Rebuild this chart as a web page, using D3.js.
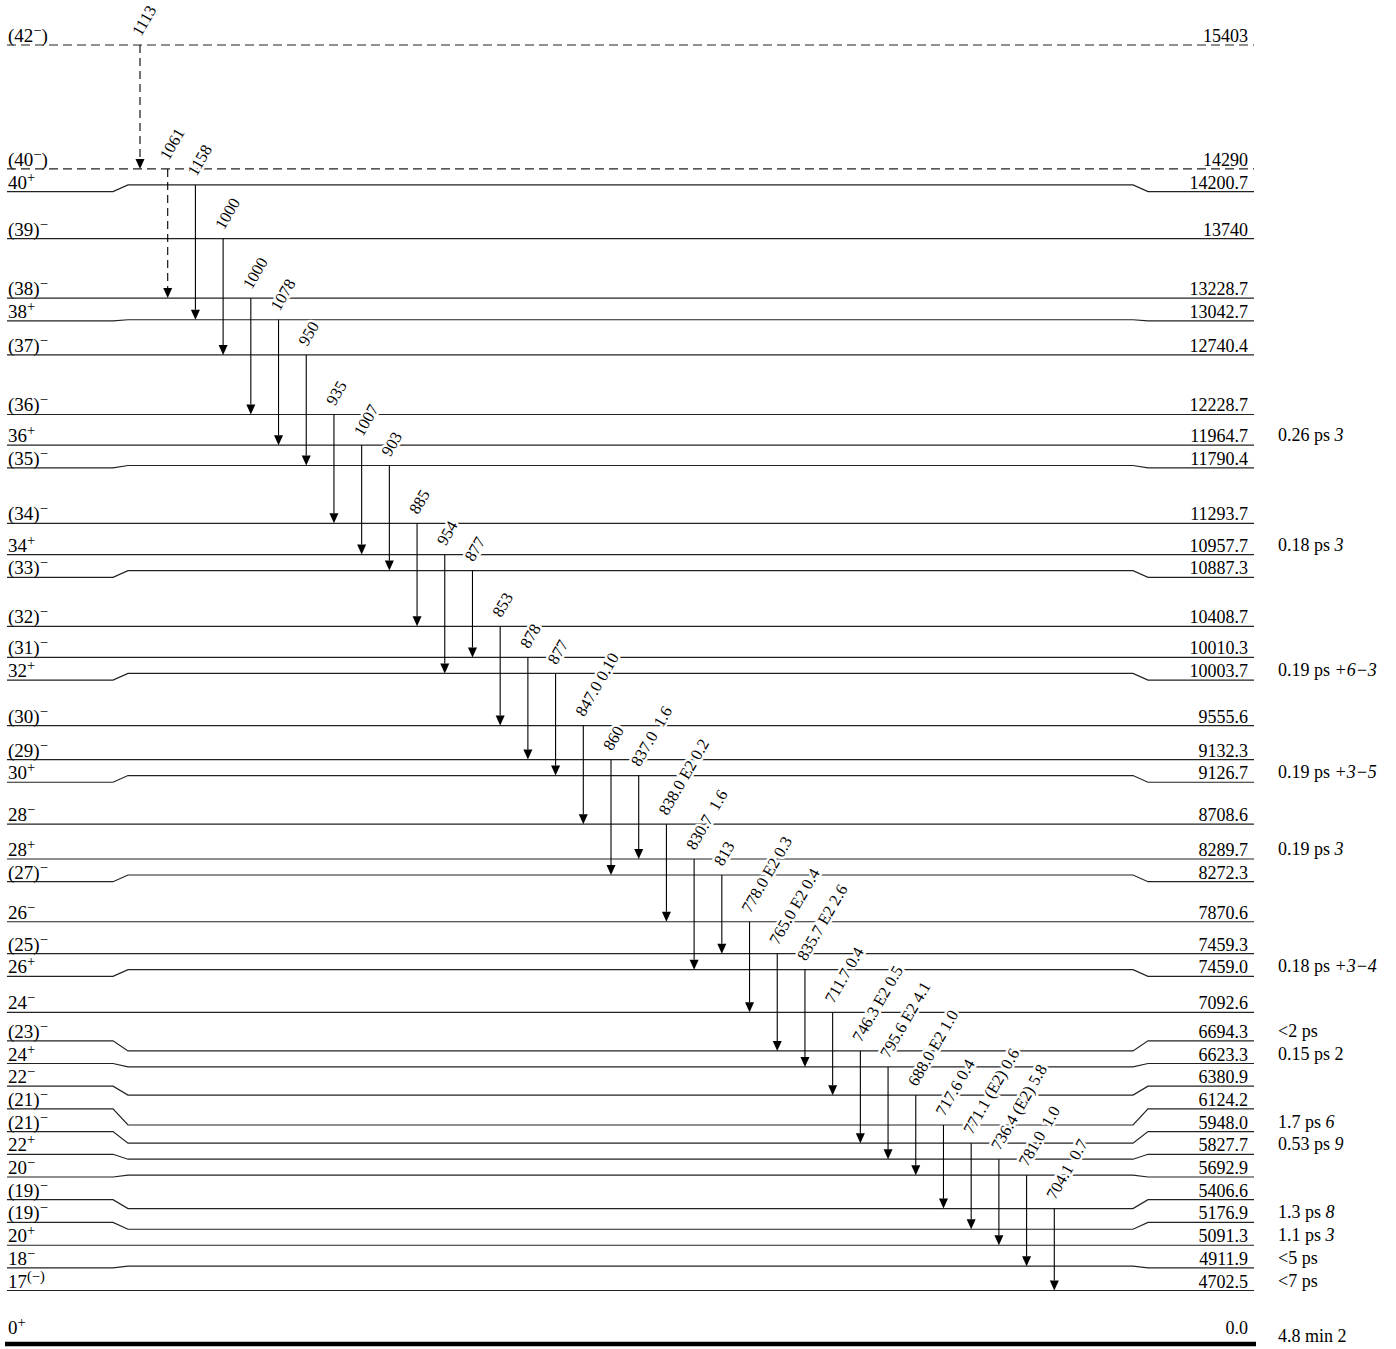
<!DOCTYPE html>
<html>
<head>
<meta charset="utf-8">
<script src="https://cdn.jsdelivr.net/npm/d3@7"></script>
<style>
body { margin: 0; background: #fff; }
text { font-family: "Liberation Serif", "Times New Roman", serif; fill: #000; }
</style>
</head>
<body>
<div id="chart"></div>
<script>
// level energies (keV) as printed, top to bottom
var levelEnergies = ["15403", "14290", "14200.7", "13740", "13228.7", "13042.7", "12740.4",
  "12228.7", "11964.7", "11790.4", "11293.7", "10957.7", "10887.3", "10408.7", "10010.3",
  "10003.7", "9555.6", "9132.3", "9126.7", "8708.6", "8289.7", "8272.3", "7870.6", "7459.3",
  "7459.0", "7092.6", "6694.3", "6623.3", "6380.9", "6124.2", "5948.0", "5827.7", "5692.9",
  "5406.6", "5176.9", "5091.3", "4911.9", "4702.5", "0.0"];
// spin-parity, "^" toggles superscript
var levelSpins = ["(42^−^)", "(40^−^)", "40^+", "(39)^−", "(38)^−", "38^+", "(37)^−",
  "(36)^−", "36^+", "(35)^−", "(34)^−", "34^+", "(33)^−", "(32)^−", "(31)^−",
  "32^+", "(30)^−", "(29)^−", "30^+", "28^−", "28^+", "(27)^−", "26^−", "(25)^−",
  "26^+", "24^−", "(23)^−", "24^+", "22^−", "(21)^−", "(21)^−", "22^+", "20^−",
  "(19)^−", "(19)^−", "20^+", "18^−", "17^(−)", "0^+"];
var tentativeLevels = ["15403", "14290"];

// half-lives
var halfLifeLevels = ["11964.7", "10957.7", "10003.7", "9126.7", "8289.7", "7459.0", "6694.3",
  "6623.3", "5948.0", "5827.7", "5176.9", "5091.3", "4911.9", "4702.5", "0.0"];
var halfLifeValues = ["0.26 ps", "0.18 ps", "0.19 ps", "0.19 ps", "0.19 ps", "0.18 ps", "<2 ps",
  "0.15 ps", "1.7 ps", "0.53 ps", "1.3 ps", "1.1 ps", "<5 ps", "<7 ps", "4.8 min"];
var halfLifeErrors = ["3", "3", "+6−3", "+3−5", "3", "+3−4", "", "2", "6", "9", "8", "3", "", "", "2"];

// gamma transitions, left to right
var gammaFrom = ["15403", "14290", "14200.7", "13740", "13228.7", "13042.7", "12740.4", "12228.7",
  "11964.7", "11790.4", "11293.7", "10957.7", "10887.3", "10408.7", "10010.3", "10003.7",
  "9555.6", "9132.3", "9126.7", "8708.6", "8289.7", "8272.3", "7870.6", "7459.3", "7459.0",
  "7092.6", "6694.3", "6623.3", "6380.9", "6124.2", "5948.0", "5827.7", "5692.9", "5406.6"];
var gammaTo = ["14290", "13228.7", "13042.7", "12740.4", "12228.7", "11964.7", "11790.4", "11293.7",
  "10957.7", "10887.3", "10408.7", "10003.7", "10010.3", "9555.6", "9132.3", "9126.7",
  "8708.6", "8272.3", "8289.7", "7870.6", "7459.0", "7459.3", "7092.6", "6694.3", "6623.3",
  "6380.9", "5948.0", "5827.7", "5692.9", "5406.6", "5176.9", "5091.3", "4911.9", "4702.5"];
var gammaLabels = ["1113", "1061", "1158", "1000", "1000", "1078", "950", "935", "1007", "903",
  "885", "954", "877", "853", "878", "877", "847.0 0.10", "860", "837.0  1.6", "838.0 E2 0.2",
  "830.7  1.6", "813", "778.0 E2 0.3", "765.0 E2 0.4", "835.7 E2 2.6", "711.7 0.4",
  "746.3 E2 0.5", "795.6 E2 4.1", "688.0 E2 1.0", "717.6 0.4", "771.1 (E2) 0.6",
  "736.4 (E2) 5.8", "781.0  1.0", "704.1  0.7"];

var width = 1396, height = 1349;
var minMid = 16, minLab = 22.7;
var xStart = 7, xEnd = 1254, kinkL = [113, 128], kinkR = [1133, 1148];

var svg = d3.select("#chart").append("svg")
    .attr("width", width)
    .attr("height", height);

var levels = levelEnergies.map(function(e, i) {
  return { key: e, e: +e, spin: levelSpins[i], dashed: tentativeLevels.indexOf(e) >= 0 };
});
var byKey = {};
levels.forEach(function(d) { byKey[d.key] = d; });

var excited = levels.filter(function(d) { return d.e > 0; })
  .sort(function(a, b) { return a.e - b.e; });
var ground = levels.filter(function(d) { return d.e == 0; })[0];

// broken energy axis: ground state sits just below the lowest excited level
var y = d3.scaleLinear()
  .domain([0, excited[0].e, excited[excited.length - 1].e])
  .range([1344, 1290.5, 45]);

// middle part of each level line, pushed up when too close to the one below
excited.forEach(function(d, i) {
  d.mid = y(d.e);
  if (i > 0) d.mid = Math.min(d.mid, excited[i - 1].mid - minMid);
});
// label ends: spread top-down, then bottom-up
var fromTop = excited.slice().reverse();
fromTop.forEach(function(d, i) {
  d.end = d.mid;
  if (i > 0) d.end = Math.max(d.end, fromTop[i - 1].end + minLab);
});
excited.forEach(function(d, i) {
  if (i == 0) d.end = d.mid;
  else d.end = Math.min(d.end, excited[i - 1].end - minLab);
});
ground.mid = ground.end = y(0);

function levelPath(d) {
  if (Math.abs(d.end - d.mid) < 0.5)
    return "M" + xStart + "," + d.mid + "H" + xEnd;
  return "M" + xStart + "," + d.end + "H" + kinkL[0] + "L" + kinkL[1] + "," + d.mid +
    "H" + kinkR[0] + "L" + kinkR[1] + "," + d.end + "H" + xEnd;
}

////////// levels //////////
svg.append("g").selectAll("path")
  .data(excited)
  .enter().append("path")
    .attr("d", levelPath)
    .attr("fill", "none")
    .attr("stroke", "#222")
    .attr("stroke-width", 1.2)
    .attr("stroke-dasharray", function(d) { return d.dashed ? "9,5" : null; });

svg.append("line")
  .attr("x1", xStart - 2).attr("x2", xEnd + 2)
  .attr("y1", ground.mid).attr("y2", ground.mid)
  .attr("stroke", "#000")
  .attr("stroke-width", 4.5);

////////// transitions //////////
var gammas = gammaLabels.map(function(t, i) {
  return { i: i, label: t, from: byKey[gammaFrom[i]], to: byKey[gammaTo[i]] };
});
var x = d3.scalePoint()
  .domain(d3.range(gammas.length))
  .range([140, 1054.3]);

var head = 10, headW = 4.5;
var gg = svg.append("g").selectAll("g")
  .data(gammas)
  .enter().append("g");

gg.append("line")
  .attr("x1", function(d) { return x(d.i); })
  .attr("x2", function(d) { return x(d.i); })
  .attr("y1", function(d) { return d.from.mid; })
  .attr("y2", function(d) { return d.to.mid - head; })
  .attr("stroke", "#000")
  .attr("stroke-width", 1.1)
  .attr("stroke-dasharray", function(d) { return d.from.dashed ? "8,5" : null; });

gg.append("path")
  .attr("d", function(d) {
    var cx = x(d.i), ty = d.to.mid;
    return "M" + cx + "," + ty + "L" + (cx - headW) + "," + (ty - head) +
      "L" + (cx + headW) + "," + (ty - head) + "Z";
  })
  .attr("fill", "#000");

gg.append("text")
  .attr("transform", function(d) {
    return "translate(" + (x(d.i) + 1) + "," + (d.from.mid - 8) + ")rotate(-60)";
  })
  .attr("font-size", 16.5)
  .style("white-space", "pre")
  .attr("stroke", "#fff")
  .attr("stroke-width", 5)
  .attr("stroke-linejoin", "round")
  .attr("paint-order", "stroke")
  .text(function(d) { return d.label; });

////////// labels //////////
var all = excited.concat([ground]);

function labelBase(d) { return d === ground ? d.end - 10 : d.end - 3; }

var spinText = svg.append("g").selectAll("text")
  .data(all)
  .enter().append("text")
    .attr("x", 8)
    .attr("y", labelBase)
    .attr("font-size", 19);

spinText.each(function(d) {
  var t = d3.select(this);
  d.spin.split("^").forEach(function(part, k) {
    if (!part) return;
    var sup = k % 2 == 1;
    t.append("tspan")
      .attr("font-size", sup ? 14.5 : 19)
      .attr("dy", sup ? -7 : (k > 0 ? 7 : 0))
      .text(part);
  });
});

svg.append("g").selectAll("text")
  .data(all)
  .enter().append("text")
    .attr("x", 1248)
    .attr("y", labelBase)
    .attr("text-anchor", "end")
    .attr("font-size", 18)
    .text(function(d) { return d.key; });

var lifeText = svg.append("g").selectAll("text")
  .data(halfLifeLevels.map(function(k, i) {
    return { level: byKey[k], value: halfLifeValues[i], err: halfLifeErrors[i] };
  }))
  .enter().append("text")
    .attr("x", 1278)
    .attr("y", function(d) { return d.level === ground ? d.level.end - 2 : d.level.end - 4; })
    .attr("font-size", 18);

lifeText.append("tspan").text(function(d) { return d.value; });
lifeText.append("tspan")
  .attr("font-style", function(d) { return d.level === ground || d.err == "2" ? "normal" : "italic"; })
  .text(function(d) { return d.err ? " " + d.err : ""; });
</script>
</body>
</html>
